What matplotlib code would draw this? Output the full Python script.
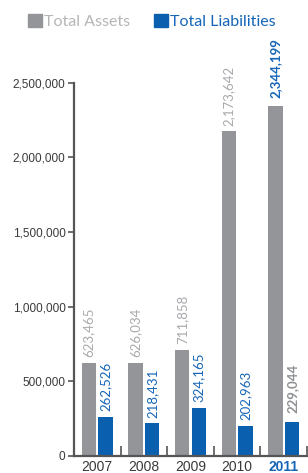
import numpy as np
import matplotlib.pyplot as plt
from matplotlib.patches import Patch

# Data
years = ['2007', '2008', '2009', '2010', '2011']
total_assets = [623465, 626034, 711858, 2173642, 2344199]
total_liabilities = [262526, 218431, 324165, 202963, 229044]

gray = '#939598'
blue = '#0a5fae'
gray_text = '#a7a9ac'
blue_text = '#1565b8'
dark = '#3a3a3a'

fig = plt.figure(figsize=(3.08, 4.73), dpi=100)
ax = fig.add_axes([0.240, 0.036, 0.757, 0.789])

x = np.arange(len(years))
w = 0.31
off = 0.18
ax.bar(x - off, total_assets, w, color=gray)
ax.bar(x + off, total_liabilities, w, color=blue)

# value labels (latest year is highlighted, with the colours swapped)
for i in range(len(years)):
    last = i == len(years) - 1
    wt = 'bold' if last else 'normal'
    pad = 6 if last else 4
    ax.annotate(f'{total_assets[i]:,}', (x[i] - off, total_assets[i]),
                xytext=(0, pad), textcoords='offset points', rotation=90,
                ha='center', va='bottom', fontsize=9.5,
                color=blue_text if last else gray_text,
                family='Lato', fontweight=wt)
    ax.annotate(f'{total_liabilities[i]:,}', (x[i] + off, total_liabilities[i]),
                xytext=(0, pad), textcoords='offset points', rotation=90,
                ha='center', va='bottom', fontsize=9.5,
                color='#8e9093' if last else blue_text,
                family='Lato', fontweight=wt)

ax.set_xlim(-0.5, len(years) - 0.5)
ax.set_ylim(0, 2500000)
ax.set_yticks([0, 500000, 1000000, 1500000, 2000000, 2500000])
ax.set_yticklabels([f'{v:,}' for v in ax.get_yticks().astype(int)],
                   fontsize=8.5, color=dark, family='Liberation Sans')
ax.tick_params(axis='y', length=4, width=1.2, color='#555555', pad=2)

ax.set_xticks(x)
ax.set_xticklabels(years, fontsize=10, color=dark, family='Liberation Sans')
ax.set_xticks(np.arange(len(years)) + 0.5, minor=True)
ax.tick_params(axis='x', which='major', length=0, pad=3)
ax.tick_params(axis='x', which='minor', direction='in', length=7,
               width=1.2, color='#555555')
lbl = ax.get_xticklabels()[-1]
lbl.set_color(blue_text)
lbl.set_fontweight('bold')

for s in ['top', 'right']:
    ax.spines[s].set_visible(False)
for s in ['left', 'bottom']:
    ax.spines[s].set_color('#555555')
    ax.spines[s].set_linewidth(1.6)

handles = [Patch(color=gray), Patch(color=blue)]
leg = fig.legend(handles, ['Total Assets', 'Total Liabilities'],
                 loc='upper left', bbox_to_anchor=(0.045, 1.0), ncol=2,
                 frameon=False, handlelength=0.85, handleheight=0.85,
                 handletextpad=0.15, columnspacing=1.5,
                 prop={'family': 'Lato', 'size': 11.5})
leg.get_texts()[0].set_color('#b5b6b8')
leg.get_texts()[1].set_color(blue_text)

fig.savefig('out.png', dpi=100)
